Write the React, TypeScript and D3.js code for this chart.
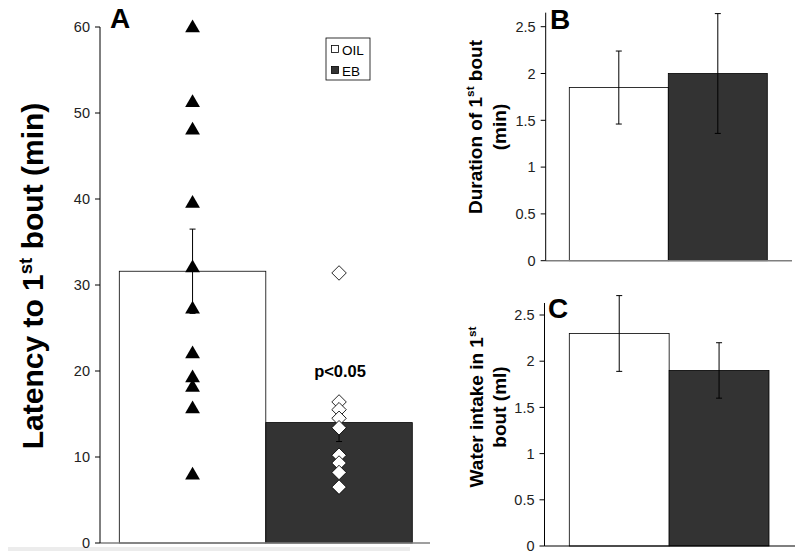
// App
import { useEffect, useRef } from 'react';
import * as d3 from 'd3';

// data
const groups = ['OIL', 'EB'];
const groupFill = ['#ffffff', '#333333'];

const latencyMean = [31.6, 14.0];
const latencySE = [4.9, 2.2];
const oilLatency = [60, 51.3, 48.1, 39.6, 32.1, 27.3, 22.1, 19.3, 18.2, 15.7, 8.0];
const ebLatency = [31.4, 16.4, 15.5, 14.5, 13.4, 10.2, 9.3, 8.2, 6.5];
const latencyTicks = [0, 10, 20, 30, 40, 50, 60];

const durationMean = [1.85, 2.0];
const durationSE = [0.39, 0.64];

const intakeMean = [2.3, 1.9];
const intakeSE = [0.41, 0.3];

const smallTicks = [0, 0.5, 1, 1.5, 2, 2.5];

const FONT = "Arial, 'Liberation Sans', sans-serif";

type Sel = d3.Selection<SVGGElement, unknown, null, undefined>;

function drawAxisY(g: Sel, y: d3.ScaleLinear<number, number>, x0: number, ticks: number[], top: number, fmt: (d: number) => string) {
	g.append('line')
		.attr('x1', x0).attr('x2', x0)
		.attr('y1', y(0)).attr('y2', top)
		.attr('stroke', '#000').attr('stroke-width', 1);
	const t = g.selectAll(null).data(ticks).enter().append('g');
	t.append('line')
		.attr('x1', x0 - 5).attr('x2', x0)
		.attr('y1', (d) => y(d)).attr('y2', (d) => y(d))
		.attr('stroke', '#000');
	t.append('text')
		.attr('x', x0 - 10)
		.attr('y', (d) => y(d))
		.attr('dy', '0.36em')
		.attr('text-anchor', 'end')
		.style('font-family', FONT)
		.style('font-size', '14.5px')
		.style('fill', '#222')
		.text(fmt);
}

function drawBars(g: Sel, x: d3.ScaleBand<string>, y: d3.ScaleLinear<number, number>, means: number[], ses: number[]) {
	g.selectAll(null).data(groups).enter().append('rect')
		.attr('x', (d) => x(d)!)
		.attr('width', x.bandwidth())
		.attr('y', (_, i) => y(means[i]))
		.attr('height', (_, i) => y(0) - y(means[i]))
		.attr('fill', (_, i) => groupFill[i])
		.attr('stroke', '#000')
		.attr('stroke-width', 0.8);

	const cap = 3;
	const e = g.selectAll(null).data(groups).enter().append('g')
		.attr('stroke', '#000').attr('stroke-width', 1);
	const cx = (d: string) => x(d)! + x.bandwidth() / 2;
	e.append('line')
		.attr('x1', cx).attr('x2', cx)
		.attr('y1', (_, i) => y(means[i] + ses[i]))
		.attr('y2', (_, i) => y(means[i] - ses[i]));
	e.append('line')
		.attr('x1', (d) => cx(d) - cap).attr('x2', (d) => cx(d) + cap)
		.attr('y1', (_, i) => y(means[i] + ses[i]))
		.attr('y2', (_, i) => y(means[i] + ses[i]));
	e.append('line')
		.attr('x1', (d) => cx(d) - cap).attr('x2', (d) => cx(d) + cap)
		.attr('y1', (_, i) => y(means[i] - ses[i]))
		.attr('y2', (_, i) => y(means[i] - ses[i]));
}

function label(g: Sel, x: number, y: number, txt: string) {
	g.append('text')
		.attr('x', x).attr('y', y)
		.style('font-family', FONT)
		.style('font-weight', 'bold')
		.style('font-size', '28px')
		.text(txt);
}

// rotated axis title, lines as [text, superscript, rest]
function yTitle(g: Sel, cx: number, cy: number, size: number, gap: number, lines: [string, string, string][]) {
	const t = g.append('text')
		.attr('transform', `translate(${cx},${cy}) rotate(-90)`)
		.attr('text-anchor', 'middle')
		.style('font-family', FONT)
		.style('font-weight', 'bold')
		.style('font-size', `${size}px`);
	lines.forEach(([a, sup, b], i) => {
		const first = t.append('tspan').attr('x', 0).attr('y', i * gap - ((lines.length - 1) * gap) / 2).text(a);
		if (sup) {
			t.append('tspan').attr('dy', -size * 0.38).style('font-size', `${size * 0.62}px`).text(sup);
			t.append('tspan').attr('dy', size * 0.38).text(b);
		} else if (b) {
			first.text(a + b);
		}
	});
}

function Figure() {
	const ref = useRef<SVGSVGElement>(null);

	useEffect(() => {
		const svg = d3.select(ref.current);
		svg.selectAll('*').remove();
		const root = svg.append('g') as unknown as Sel;

		// ---------- panel A ----------
		const a = root.append('g') as unknown as Sel;
		const yA = d3.scaleLinear().domain([0, 60]).range([543, 27]);
		const xA = d3.scaleBand<string>().domain(groups).range([119.3, 412.3]).padding(0);

		// faint band under panel A
		a.append('rect').attr('x', 8).attr('y', 547).attr('width', 402).attr('height', 4).attr('fill', '#ececec');

		drawBars(a, xA, yA, latencyMean, latencySE);
		a.append('line')
			.attr('x1', 100).attr('x2', 430)
			.attr('y1', yA(0)).attr('y2', yA(0))
			.attr('stroke', '#7f7f7f').attr('stroke-width', 1.5);
		drawAxisY(a, yA, 100, latencyTicks, yA(60), (d) => String(d));

		const tri = d3.symbol().type(d3.symbolTriangle).size(95);
		a.selectAll(null).data(oilLatency).enter().append('path')
			.attr('d', tri)
			.attr('transform', (d) => `translate(${xA('OIL')! + xA.bandwidth() / 2},${yA(d) + 1})`)
			.attr('fill', '#000');

		const dia = d3.symbol().type(d3.symbolSquare).size(105);
		a.selectAll(null).data(ebLatency).enter().append('path')
			.attr('d', dia)
			.attr('transform', (d) => `translate(${xA('EB')! + xA.bandwidth() / 2},${yA(d)}) rotate(45)`)
			.attr('fill', '#fff')
			.attr('stroke', '#000')
			.attr('stroke-width', 0.8);

		a.append('text')
			.attr('x', xA('EB')! + xA.bandwidth() / 2 + 1)
			.attr('y', 377)
			.attr('text-anchor', 'middle')
			.style('font-family', FONT)
			.style('font-weight', 'bold')
			.style('font-size', '16.5px')
			.text('p<0.05');

		// legend
		const lg = a.append('g');
		lg.append('rect').attr('x', 326).attr('y', 38).attr('width', 44).attr('height', 42)
			.attr('fill', '#fff').attr('stroke', '#000').attr('stroke-width', 0.8);
		groups.forEach((gname, i) => {
			lg.append('rect').attr('x', 331.5).attr('y', 45.5 + i * 21).attr('width', 7).attr('height', 7)
				.attr('fill', groupFill[i]).attr('stroke', '#000').attr('stroke-width', 0.8);
			lg.append('text').attr('x', 342).attr('y', 54.5 + i * 21)
				.style('font-family', FONT).style('font-size', '13.5px').text(gname);
		});

		label(a, 110, 28, 'A');
		yTitle(a, 43, 276, 30, 0, [['Latency to 1', 'st', ' bout (min)']]);

		// ---------- panel B ----------
		const b = root.append('g') as unknown as Sel;
		const yB = d3.scaleLinear().domain([0, 2.5]).range([260.7, 26.7]);
		const xB = d3.scaleBand<string>().domain(groups).range([569.3, 767.3]).padding(0);
		drawBars(b, xB, yB, durationMean, durationSE);
		b.append('line')
			.attr('x1', 545.7).attr('x2', 792)
			.attr('y1', yB(0)).attr('y2', yB(0))
			.attr('stroke', '#7f7f7f').attr('stroke-width', 1.5);
		drawAxisY(b, yB, 545.7, smallTicks, yB(2.65), (d) => String(d));
		label(b, 550, 29, 'B');
		yTitle(b, 493.7, 127, 19, 24, [['Duration of 1', 'st', ' bout'], ['(min)', '', '']]);

		// ---------- panel C ----------
		const c = root.append('g') as unknown as Sel;
		const yC = d3.scaleLinear().domain([0, 2.5]).range([546, 315]);
		const xC = d3.scaleBand<string>().domain(groups).range([569.3, 769]).padding(0);
		drawBars(c, xC, yC, intakeMean, intakeSE);
		c.append('line')
			.attr('x1', 544.5).attr('x2', 795)
			.attr('y1', yC(0)).attr('y2', yC(0))
			.attr('stroke', '#000').attr('stroke-width', 1.2);
		drawAxisY(c, yC, 544.5, smallTicks, yC(2.63), (d) => String(d));
		label(c, 548, 318, 'C');
		yTitle(c, 494.5, 407, 19, 22.5, [['Water intake in 1', 'st', ''], ['bout (ml)', '', '']]);
	}, []);

	return <svg ref={ref} width={800} height={559} style={{ position: 'absolute', left: 0, top: 0, background: '#fff' }} />;
}

export default function App() {
	return <Figure />;
}
